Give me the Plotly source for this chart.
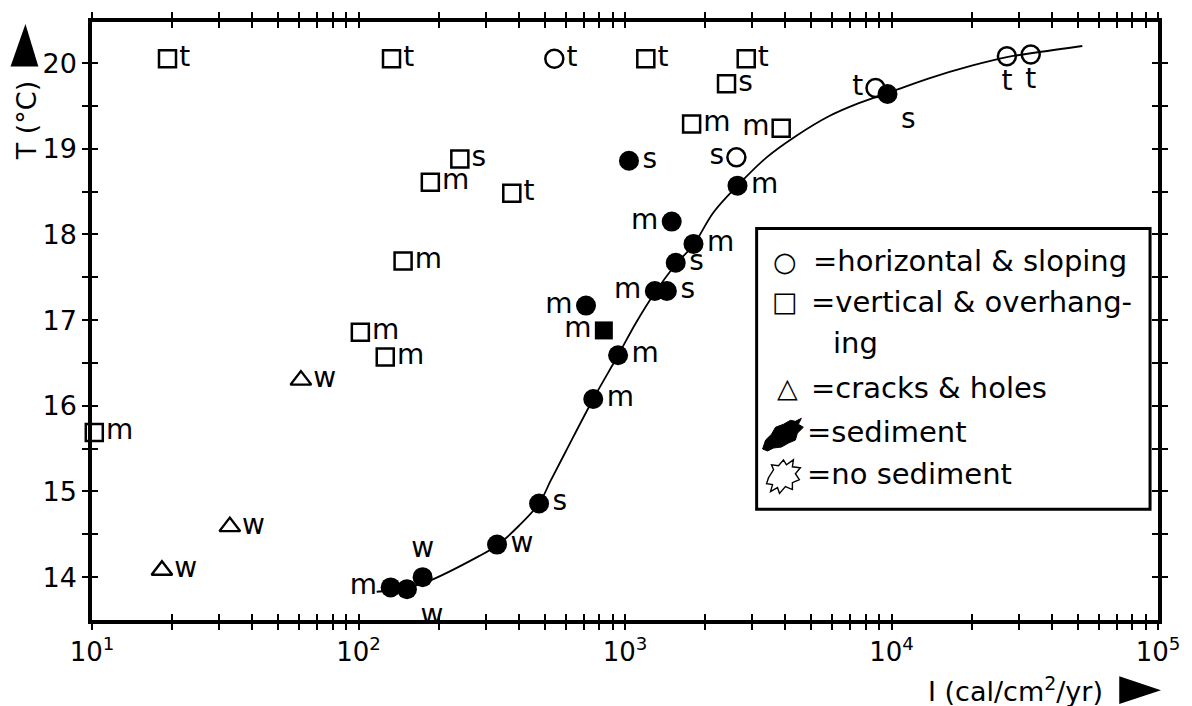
import plotly.graph_objects as go

# ---------------- data ----------------
# open squares: vertical & overhanging, no sediment
sq_I = [19.2, 133, 1197, 2850, 2404, 1778, 3855, 240, 186, 376, 147, 101.6, 126, 10.2]
sq_T = [20.05, 20.05, 20.05, 20.05, 19.76, 19.29, 19.24, 18.88, 18.61, 18.48, 17.69, 16.86, 16.57, 15.69]
sq_lab = ["t", "t", "t", "t", "s", "m", "m", "s", "m", "t", "m", "m", "m", "m"]

# open circles: horizontal & sloping, no sediment
oc_I = [543, 2618, 8710, 27100, 33300]
oc_T = [20.05, 18.90, 19.71, 20.08, 20.10]
oc_lab = ["t", "s", "t", "t", "t"]

# open triangles: cracks & holes
tri_I = [60.8, 32.9, 18.3]
tri_T = [16.30, 14.59, 14.08]
tri_lab = ["w", "w", "w"]

# filled circles: horizontal & sloping, sediment
fc_I = [132, 152, 174, 331, 476, 760, 942, 714, 1294, 1436, 1550, 1807, 1497, 1035, 2643, 9660]
fc_T = [13.88, 13.86, 14.00, 14.38, 14.86, 16.08, 16.59, 17.17, 17.34, 17.34, 17.67, 17.89, 18.15, 18.86, 18.57, 19.64]
fc_lab = ["m", "w", "w", "w", "s", "m", "m", "m", "m", "s", "s", "m", "m", "s", "m", "s"]

# filled square: vertical & overhanging, sediment
fs_I = [833]
fs_T = [16.88]
fs_lab = ["m"]

# fitted curve
curve_I = [117, 150, 182, 281, 331, 400, 476, 525, 600, 760, 942, 1100, 1294, 1550, 1807,
           2150, 2643, 3400, 4385, 5820, 7500, 9660, 13740, 20000, 27100, 36000, 52000]
curve_T = [13.83, 13.87, 13.95, 14.24, 14.37, 14.60, 14.86, 15.12, 15.47, 16.08, 16.59, 16.97,
           17.32, 17.65, 17.88, 18.26, 18.57, 18.90, 19.15, 19.38, 19.53, 19.65, 19.82, 19.97,
           20.07, 20.13, 20.20]

x_decades = [1, 2, 3, 4, 5]
x_tick_labels = ["10<sup>1</sup>", "10<sup>2</sup>", "10<sup>3</sup>", "10<sup>4</sup>", "10<sup>5</sup>"]
y_major = [14, 15, 16, 17, 18, 19, 20]
y_minor = [14.5, 15.5, 16.5, 17.5, 18.5, 19.5]

# ---------------- styling ----------------
W, H = 1192, 706
ML, MR, MT, MB = 92, 27, 15, 86
PW, PH = W - ML - MR, H - MT - MB
FONT = "DejaVu Sans"
LBL = 28


def px2x(px):
    return (px - ML) / PW


def px2y(py):
    return (H - MB - py) / PH


sq_pos = ["middle right"] * 6 + ["middle left"] + ["middle right"] * 7
oc_pos = ["middle right", "middle left", "middle left", "bottom center", "bottom center"]
tri_pos = ["middle right"] * 3
fc_pos = ["middle left", "bottom right", "top center", "middle right", "middle right",
          "middle right", "middle right", "middle left", "middle left", "middle right",
          "middle right", "middle right", "middle left", "middle right", "middle right",
          "bottom right"]

fig = go.Figure()

fig.add_trace(go.Scatter(x=curve_I, y=curve_T, mode="lines", line=dict(color="black", width=1.8, shape="spline"),
                         xaxis="x2", yaxis="y2", hoverinfo="skip", showlegend=False))

fig.add_trace(go.Scatter(x=sq_I, y=sq_T, mode="markers+text", text=sq_lab, textposition=sq_pos,
                         marker=dict(symbol="square-open", size=17, color="black", line=dict(width=2.5)),
                         textfont=dict(family=FONT, size=LBL, color="black"), cliponaxis=False, showlegend=False))
fig.add_trace(go.Scatter(x=oc_I, y=oc_T, mode="markers+text", text=oc_lab, textposition=oc_pos,
                         marker=dict(symbol="circle", size=18, color="white", line=dict(width=2.5, color="black")),
                         textfont=dict(family=FONT, size=LBL, color="black"), cliponaxis=False, showlegend=False))
fig.add_trace(go.Scatter(x=tri_I, y=tri_T, mode="markers+text", text=tri_lab, textposition=tri_pos,
                         marker=dict(symbol="triangle-up-open", size=18, color="black", line=dict(width=2.4)),
                         textfont=dict(family=FONT, size=LBL, color="black"), cliponaxis=False, showlegend=False))
fig.add_trace(go.Scatter(x=fc_I, y=fc_T, mode="markers+text", text=fc_lab, textposition=fc_pos,
                         marker=dict(symbol="circle", size=20, color="black"),
                         textfont=dict(family=FONT, size=LBL, color="black"), cliponaxis=False, showlegend=False))
fig.add_trace(go.Scatter(x=fs_I, y=fs_T, mode="markers+text", text=fs_lab, textposition="middle left",
                         marker=dict(symbol="square", size=18, color="black"),
                         textfont=dict(family=FONT, size=LBL, color="black"), cliponaxis=False, showlegend=False))

# ticks
xtv = [10 ** d for d in x_decades]
x_minor = [k * 10 ** d for d in x_decades[:-1] for k in range(2, 10)]
x_all = sorted(xtv + x_minor)
y_all = sorted(y_major + y_minor)

axis_common = dict(showgrid=False, zeroline=False, showline=True, linecolor="black", linewidth=3.5,
                   tickcolor="black", tickwidth=2, ticklen=6, mirror="ticks")
fig.update_layout(
    width=W, height=H, margin=dict(l=ML, r=MR, t=MT, b=MB),
    paper_bgcolor="white", plot_bgcolor="white",
    font=dict(family=FONT, color="black"),
    xaxis=dict(type="log", range=[1, 5], tickvals=xtv, ticktext=x_tick_labels, ticks="outside",
               minor=dict(tickvals=x_minor, ticks="outside", ticklen=6, tickwidth=2, tickcolor="black", showgrid=False),
               tickfont=dict(size=26, family=FONT), **axis_common),
    yaxis=dict(range=[13.5, 20.48], tickvals=y_major, ticks="outside",
               minor=dict(tickvals=y_minor, ticks="outside", ticklen=6, tickwidth=2, tickcolor="black", showgrid=False),
               tickfont=dict(size=27, family=FONT), **axis_common),
    xaxis2=dict(type="log", range=[1, 5], tickmode="array", tickvals=[], ticks="inside", showticklabels=False,
                minor=dict(tickvals=x_all, ticks="inside", ticklen=6, tickwidth=2, tickcolor="black", showgrid=False),
                overlaying="x", side="bottom", anchor="y2", **axis_common),
    yaxis2=dict(range=[13.5, 20.48], tickmode="array", tickvals=[], ticks="inside", showticklabels=False,
                minor=dict(tickvals=y_all, ticks="inside", ticklen=6, tickwidth=2, tickcolor="black", showgrid=False),
                overlaying="y", side="left", anchor="x2", **axis_common),
)

ann = []
# axis titles
ann.append(dict(text="T (°C)", x=px2x(26), y=px2y(114), xref="paper", yref="paper", textangle=-90,
                showarrow=False, font=dict(size=27, family=FONT), xanchor="center", yanchor="middle"))
ann.append(dict(text="I (cal/cm<sup>2</sup>/yr)", x=px2x(1112), y=px2y(690), xref="paper", yref="paper",
                showarrow=False, font=dict(size=27, family=FONT), xanchor="right", yanchor="middle"))

shapes = []
# arrow triangles
shapes.append(dict(type="path", xref="paper", yref="paper", fillcolor="black", line=dict(width=0),
                   path=f"M {px2x(10)},{px2y(60)} L {px2x(38)},{px2y(60)} L {px2x(25)},{px2y(17)} Z"))
shapes.append(dict(type="path", xref="paper", yref="paper", fillcolor="black", line=dict(width=0),
                   path=f"M {px2x(1126)},{px2y(677)} L {px2x(1126)},{px2y(705)} L {px2x(1168)},{px2y(691)} Z"))

# legend box
shapes.append(dict(type="rect", xref="paper", yref="paper", x0=px2x(761), x1=px2x(1157), y0=px2y(508), y1=px2y(224),
                   line=dict(color="black", width=3), fillcolor="white", layer="above"))

leg_font = dict(size=29, family=FONT, color="black")
rows = [("○", 790, 257, "=horizontal & sloping", 816),
        ("□", 790, 298, "=vertical & overhang-", 814),
        ("", 0, 340, "ing", 836),
        ("△", 792, 385, "=cracks & holes", 814),
        ("", 0, 430, "=sediment", 810),
        ("", 0, 472, "=no sediment", 810)]
for sym, sx, yy, txt, tx in rows:
    if sym:
        ann.append(dict(text=sym, x=px2x(sx), y=px2y(yy), xref="paper", yref="paper", showarrow=False,
                        font=dict(size=27, family=FONT), xanchor="center", yanchor="middle"))
    ann.append(dict(text=txt, x=px2x(tx), y=px2y(yy), xref="paper", yref="paper", showarrow=False,
                    font=leg_font, xanchor="left", yanchor="middle"))

# sediment blob (filled splat)
blob = [(767, 447), (770, 438), (776, 432), (780, 425), (788, 422), (795, 418), (800, 419), (806, 416),
        (803, 422), (808, 425), (802, 431), (800, 438), (793, 441), (786, 445), (778, 446), (772, 449)]
shapes.append(dict(type="path", xref="paper", yref="paper", fillcolor="black", line=dict(color="black", width=1),
                   layer="above",
                   path="M " + " L ".join(f"{px2x(a)},{px2y(b)}" for a, b in blob) + " Z"))
# no-sediment blob (jagged outline)
nblob = [(773, 476), (778, 468), (776, 463), (783, 464), (788, 458), (791, 463), (798, 458), (797, 465),
         (805, 466), (800, 472), (804, 478), (797, 481), (797, 488), (790, 485), (784, 492), (782, 486),
         (775, 490), (777, 483), (771, 482)]
shapes.append(dict(type="path", xref="paper", yref="paper", fillcolor="white", line=dict(color="black", width=1.4),
                   layer="above",
                   path="M " + " L ".join(f"{px2x(a)},{px2y(b)}" for a, b in nblob) + " Z"))

fig.update_layout(annotations=ann, shapes=shapes)
fig.write_html("out.html")
